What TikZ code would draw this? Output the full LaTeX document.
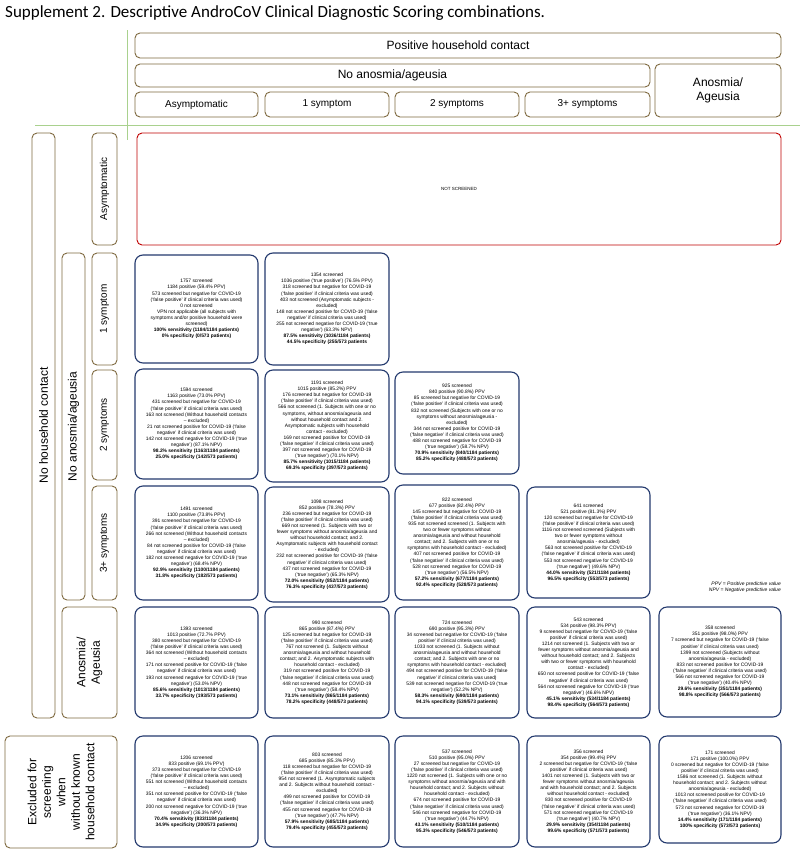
\documentclass[tikz,border=0pt]{standalone}
\usepackage{fontspec}
\setmainfont{Liberation Sans}
\newfontfamily\titlefont{Carlito}
\definecolor{hdrc}{HTML}{7F6A40}
\definecolor{cellc}{HTML}{243A6E}
\definecolor{redc}{HTML}{C00000}
\definecolor{grnc}{HTML}{A9D18E}
\newcommand\bx[7]{\node[#2, minimum width={#5-#3}, minimum height={#6-#4}] (#1) at ({(#3+#5)/2},{(#4+#6)/2}) {#7};}
\newcommand\rbx[7]{\node[#2, rotate=90, minimum width={#6-#4}, minimum height={#5-#3}] (#1) at ({(#3+#5)/2},{(#4+#6)/2}) {#7};}
\begin{document}
\begin{tikzpicture}[x=1pt,y=-1pt,
 hdr/.style={draw=hdrc, line width=0.9pt, rounded corners=5pt, inner sep=0pt, align=center, font=\fontsize{12}{14.5}\selectfont},
 colhdr/.style={hdr, font=\fontsize{10}{12}\selectfont},
 cell/.style={draw=cellc, line width=1.1pt, rounded corners=8pt, inner sep=0pt, align=center, font=\fontsize{4.9}{6.1}\selectfont},
 redbox/.style={draw=redc, line width=0.9pt, rounded corners=5pt, inner sep=0pt, font=\fontsize{4.5}{5}\selectfont},
 gline/.style={draw=grnc, line width=0.8pt},
]
\useasboundingbox (0,0) rectangle (800,857);
\fill[white] (0,0) rectangle (800,857);
\node[anchor=base west, inner sep=0pt, font=\titlefont\fontsize{17}{20}\selectfont] (title) at (5,17) {Supplement 2. Descriptive AndroCoV Clinical Diagnostic Scoring combinations.};
% green guide lines
\coordinate (g1) at (127,30); \coordinate (g2) at (127,140);
\coordinate (g3) at (35,125); \coordinate (g4) at (800,125);
\draw[gline] (g1) -- (g2);
\draw[gline] (g3) -- (g4);
% top headers
\bx{hpos}{hdr}{135}{33}{781}{58}{Positive household contact}
\bx{hnoan}{hdr}{135}{64}{650}{87}{No anosmia/ageusia}
\bx{hanos}{hdr}{655}{64}{781}{117}{Anosmia/\\Ageusia}
\bx{hc1}{colhdr}{135}{92}{258}{117}{Asymptomatic}
\bx{hc2}{colhdr}{265}{92}{389}{117}{1 symptom}
\bx{hc3}{colhdr}{395}{92}{519}{117}{2 symptoms}
\bx{hc4}{colhdr}{525}{92}{650}{117}{3+ symptoms}
% left headers
\rbx{lnhc}{hdr}{32}{133}{55}{718}{No household contact}
\rbx{lasym}{colhdr}{92}{133}{117}{245}{Asymptomatic}
\rbx{lnoan}{hdr}{62}{253}{85}{600}{No anosmia/ageusia}
\rbx{lr1}{colhdr}{92}{253}{117}{365}{1 symptom}
\rbx{lr2}{colhdr}{92}{370}{117}{480}{2 symptoms}
\rbx{lr3}{colhdr}{92}{486}{117}{600}{3+ symptoms}
\rbx{lan}{hdr}{62}{607}{117}{718}{Anosmia/\\Ageusia}
\rbx{lex}{hdr}{5}{736}{117}{848}{Excluded for\\screening\\when\\without known\\household contact}
% not screened
\bx{ns}{redbox}{137}{133}{781}{245}{NOT SCREENED}
% row 1
\bx{r1c1}{cell}{135}{255}{258}{363}{1757 screened\\1184 positive (59.4\% PPV)\\573 screened but negative for COVID-19\\(`false positive' if clinical criteria was used)\\0 not screened\\VPN not applicable (all subjects with\\symptoms and/or positive household were\\screened)\\\textbf{100\% sensitivity (1184/1184 patients)}\\\textbf{0\% specificity (0/573 patients)}}
\bx{r1c2}{cell}{265}{253}{389}{365}{1354 screened\\1036 positive (`true positive') (76.5\% PPV)\\318 screened but negative for COVID-19\\(`false positive' if clinical criteria was used)\\403 not screened (Asymptomatic subjects -\\excluded)\\148 not screened positive for COVID-19 (`false\\negative' if clinical criteria was used)\\255 not screened negative for COVID-19 (`true\\negative') (63.3\% NPV)\\\textbf{87.5\% sensitivity (1036/1184 patients)}\\\textbf{44.5\% specificity (255/573 patients}}
% row 2
\bx{r2c1}{cell}{135}{369}{258}{479}{1594 screened\\1163 positive (73.0\% PPV)\\431 screened but negative for COVID-19\\(`false positive' if clinical criteria was used)\\163 not screened (Without household contacts\\-- excluded)\\21 not screened positive for COVID-19 (`false\\negative' if clinical criteria was used)\\142 not screened negative for COVID-19 (`true\\negative') (87.1\% NPV)\\\textbf{98.2\% sensitivity (1163/1184 patients)}\\\textbf{25.0\% specificity (142/573 patients)}}
\bx{r2c2}{cell}{265}{370}{389}{482}{1191 screened\\1015 positive (85.2\%) PPV\\176 screened but negative for COVID-19\\(`false positive' if clinical criteria was used)\\566 not screened (1. Subjects with one or no\\symptoms, without anosmia/ageusia and\\without household contact and 2.\\Asymptomatic subjects with household\\contact - excluded)\\169 not screened positive for COVID-19\\(`false negative' if clinical criteria was used)\\397 not screened negative for COVID-19\\(`true negative') (70.1\% NPV)\\\textbf{85.7\% sensitivity (1015/1184 patients)}\\\textbf{69.3\% specificity (397/573 patients)}}
\bx{r2c3}{cell}{395}{372}{519}{474}{925 screened\\840 positive (90.8\%) PPV\\85 screened but negative for COVID-19\\(`false positive' if clinical criteria was used)\\832 not screened (Subjects with one or no\\symptoms without anosmia/ageusia -\\excluded)\\344 not screened positive for COVID-19\\(`false negative' if clinical criteria was used)\\488 not screened negative for COVID-19\\(`true negative') (58.7\% NPV)\\\textbf{70.9\% sensitivity (840/1184 patients)}\\\textbf{85.2\% specificity (488/573 patients)}}
% row 3
\bx{r3c1}{cell}{135}{486}{258}{600}{1491 screened\\1100 positive (73.8\% PPV)\\391 screened but negative for COVID-19\\(`false positive' if clinical criteria was used)\\266 not screened (Without household contacts\\-- excluded)\\84 not screened positive for COVID-19 (`false\\negative' if clinical criteria was used)\\182 not screened negative for COVID-19 (`true\\negative') (68.4\% NPV)\\\textbf{92.9\% sensitivity (1100/1184 patients)}\\\textbf{31.8\% specificity (182/573 patients)}}
\bx{r3c2}{cell}{265}{487}{389}{602}{1098 screened\\852 positive (78.3\%) PPV\\236 screened but negative for COVID-19\\(`false positive' if clinical criteria was used)\\669 not screened (1. Subjects with two or\\fewer symptoms without anosmia/ageusia and\\without household contact; and 2.\\Asymptomatic subjects with household contact\\- excluded)\\232 not screened positive for COVID-19 (`false\\negative' if clinical criteria was used)\\437 not screened negative for COVID-19\\(`true negative') (65.3\% NPV)\\\textbf{72.0\% sensitivity (852/1184 patients)}\\\textbf{76.3\% specificity (437/573 patients)}}
\bx{r3c3}{cell}{395}{485}{519}{600}{822 screened\\677 positive (82.4\%) PPV\\145 screened but negative for COVID-19\\(`false positive' if clinical criteria was used)\\935 not screened screened (1. Subjects with\\two or fewer symptoms without\\anosmia/ageusia and without household\\contact; and 2. Subjects with one or no\\symptoms with household contact - excluded)\\407 not screened positive for COVID-19\\(`false negative' if clinical criteria was used)\\528 not screened negative for COVID-19\\(`true negative') (56.5\% NPV)\\\textbf{57.2\% sensitivity (677/1184 patients)}\\\textbf{92.4\% specificity (528/573 patients)}}
\bx{r3c4}{cell}{527}{487}{650}{598}{641 screened\\521 positive (81.3\%) PPV\\120 screened but negative for COVID-19\\(`false positive' if clinical criteria was used)\\1116 not screened screened (Subjects with\\two or fewer symptoms without\\anosmia/ageusia - excluded)\\563 not screened positive for COVID-19\\(`false negative' if clinical criteria was used)\\553 not screened negative for COVID-19\\(`true negative') (49.6\% NPV)\\\textbf{44.0\% sensitivity (521/1184 patients)}\\\textbf{96.5\% specificity (553/573 patients)}}
\node[anchor=base east, inner sep=0pt, font=\fontsize{5}{6}\selectfont\itshape, align=right] (note) at (781,591) {PPV = Positive predictive value\\NPV = Negative predictive value};
% row 4
\bx{r4c1}{cell}{135}{607}{258}{718}{1393 screened\\1013 positive (72.7\% PPV)\\380 screened but negative for COVID-19\\(`false positive' if clinical criteria was used)\\364 not screened (Without household contacts\\-- excluded)\\171 not screened positive for COVID-19 (`false\\negative' if clinical criteria was used)\\193 not screened negative for COVID-19 (`true\\negative') (53.0\% NPV)\\\textbf{85.6\% sensitivity (1013/1184 patients)}\\\textbf{33.7\% specificity (193/573 patients)}}
\bx{r4c2}{cell}{265}{607}{389}{718}{990 screened\\865 positive (87.4\%) PPV\\125 screened but negative for COVID-19\\(`false positive' if clinical criteria was used)\\767 not screened (1. Subjects without\\anosmia/ageusia and without household\\contact; and 2. Asymptomatic subjects with\\household contact - excluded)\\319 not screened positive for COVID-19\\(`false negative' if clinical criteria was used)\\448 not screened negative for COVID-19\\(`true negative') (58.4\% NPV)\\\textbf{73.1\% sensitivity (865/1184 patients)}\\\textbf{78.2\% specificity (448/573 patients)}}
\bx{r4c3}{cell}{395}{607}{519}{718}{724 screened\\690 positive (95.3\%) PPV\\34 screened but negative for COVID-19 (`false\\positive' if clinical criteria was used)\\1033 not screened (1. Subjects without\\anosmia/ageusia and without household\\contact; and 2. Subjects with one or no\\symptoms with household contact - excluded)\\494 not screened positive for COVID-19 (`false\\negative' if clinical criteria was used)\\539 not screened negative for COVID-19 (`true\\negative') (52.2\% NPV)\\\textbf{58.3\% sensitivity (690/1184 patients)}\\\textbf{94.1\% specificity (539/573 patients)}}
\bx{r4c4}{cell}{527}{607}{650}{718}{543 screened\\534 positive (98.3\% PPV)\\9 screened but negative for COVID-19 (`false\\positive' if clinical criteria was used)\\1214 not screened (1. Subjects with two or\\fewer symptoms without anosmia/ageusia and\\without household contact; and 2. Subjects\\with two or fewer symptoms with household\\contact - excluded)\\650 not screened positive for COVID-19 (`false\\negative' if clinical criteria was used)\\564 not screened negative for COVID-19 (`true\\negative') (46.6\% NPV)\\\textbf{45.1\% sensitivity (534/1184 patients)}\\\textbf{98.4\% specificity (564/573 patients)}}
\bx{r4c5}{cell}{659}{607}{781}{717}{358 screened\\351 positive (98.0\%) PPV\\7 screened but negative for COVID-19 (`false\\positive' if clinical criteria was used)\\1399 not screened (Subjects without\\anosmia/ageusia - excluded)\\833 not screened positive for COVID-19\\(`false negative' if clinical criteria was used)\\566 not screened negative for COVID-19\\(`true negative') (40.4\% NPV)\\\textbf{29.6\% sensitivity (351/1184 patients)}\\\textbf{98.8\% specificity (566/573 patients)}}
% row 5
\bx{r5c1}{cell}{135}{736}{258}{847}{1206 screened\\833 positive (69.1\% PPV)\\373 screened but negative for COVID-19\\(`false positive' if clinical criteria was used)\\551 not screened (Without household contacts\\-- excluded)\\351 not screened positive for COVID-19 (`false\\negative' if clinical criteria was used)\\200 not screened negative for COVID-19 (`true\\negative') (36.3\% NPV)\\\textbf{70.4\% sensitivity (833/1184 patients)}\\\textbf{34.9\% specificity (200/573 patients)}}
\bx{r5c2}{cell}{265}{736}{389}{847}{803 screened\\685 positive (85.3\% PPV)\\118 screened but negative for COVID-19\\(`false positive' if clinical criteria was used)\\954 not screened (1. Asymptomatic subjects\\and 2. Subjects without household contact -\\excluded)\\499 not screened positive for COVID-19\\(`false negative' if clinical criteria was used)\\455 not screened negative for COVID-19\\(`true negative') (47.7\% NPV)\\\textbf{57.9\% sensitivity (685/1184 patients)}\\\textbf{79.4\% specificity (455/573 patients)}}
\bx{r5c3}{cell}{395}{736}{519}{847}{537 screened\\510 positive (95.0\%) PPV\\27 screened but negative for COVID-19\\(`false positive' if clinical criteria was used)\\1220 not screened (1. Subjects with one or no\\symptoms without anosmia/ageusia and with\\household contact; and 2. Subjects without\\household contact - excluded)\\674 not screened positive for COVID-19\\(`false negative' if clinical criteria was used)\\546 not screened negative for COVID-19\\(`true negative') (44.7\% NPV)\\\textbf{43.1\% sensitivity (510/1184 patients)}\\\textbf{95.3\% specificity (546/573 patients)}}
\bx{r5c4}{cell}{527}{736}{650}{847}{356 screened\\354 positive (99.4\%) PPV\\2 screened but negative for COVID-19 (`false\\positive' if clinical criteria was used)\\1401 not screened (1. Subjects with two or\\fewer symptoms without anosmia/ageusia\\and with household contact; and 2. Subjects\\without household contact - excluded)\\830 not screened positive for COVID-19\\(`false negative' if clinical criteria was used)\\571 not screened negative for COVID-19\\(`true negative') (40.7\% NPV)\\\textbf{29.9\% sensitivity (354/1184 patients)}\\\textbf{99.6\% specificity (571/573 patients)}}
\bx{r5c5}{cell}{659}{736}{781}{843}{171 screened\\171 positive (100.0\%) PPV\\0 screened but negative for COVID-19 (`false\\positive' if clinical criteria was used)\\1586 not screened (1. Subjects without\\household contact; and 2. Subjects without\\anosmia/ageusia - excluded)\\1013 not screened positive for COVID-19\\(`false negative' if clinical criteria was used)\\573 not screened negative for COVID-19\\(`true negative') (36.1\% NPV)\\\textbf{14.4\% sensitivity (171/1184 patients)}\\\textbf{100\% specificity (573/573 patients)}}
\end{tikzpicture}
\end{document}
